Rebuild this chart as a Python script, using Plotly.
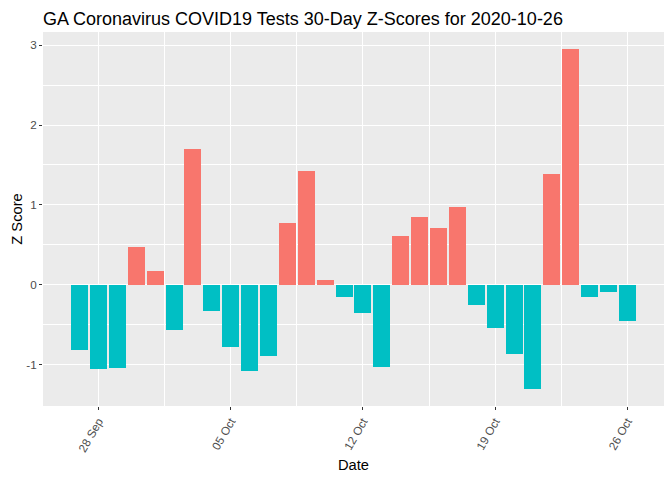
import plotly.graph_objects as go

dates = [
    "2020-09-27", "2020-09-28", "2020-09-29", "2020-09-30", "2020-10-01",
    "2020-10-02", "2020-10-03", "2020-10-04", "2020-10-05", "2020-10-06",
    "2020-10-07", "2020-10-08", "2020-10-09", "2020-10-10", "2020-10-11",
    "2020-10-12", "2020-10-13", "2020-10-14", "2020-10-15", "2020-10-16",
    "2020-10-17", "2020-10-18", "2020-10-19", "2020-10-20", "2020-10-21",
    "2020-10-22", "2020-10-23", "2020-10-24", "2020-10-25", "2020-10-26",
]
z_scores = [
    -0.82, -1.058, -1.046, 0.467, 0.167,
    -0.571, 1.696, -0.333, -0.783, -1.083,
    -0.896, 0.767, 1.429, 0.058, -0.154,
    -0.358, -1.033, 0.604, 0.854, 0.704,
    0.979, -0.258, -0.546, -0.867, -1.308,
    1.392, 2.954, -0.154, -0.096, -0.458,
]
tick_vals = ["2020-09-28", "2020-10-05", "2020-10-12", "2020-10-19", "2020-10-26"]
tick_text = ["28 Sep", "05 Oct", "12 Oct", "19 Oct", "26 Oct"]

POS = "#F8766D"
NEG = "#00BFC4"
colors = [POS if v > 0 else NEG for v in z_scores]
DAY_MS = 86400000

# the page body adds an 8px margin, so the figure is sized to fit the window
W, H = 664, 472

fig = go.Figure(
    go.Bar(
        x=dates,
        y=z_scores,
        marker=dict(color=colors, line=dict(width=0)),
        width=0.9 * DAY_MS,
        showlegend=False,
    )
)

fig.update_layout(
    width=W,
    height=H,
    margin=dict(l=35, r=8, t=24, b=74),
    paper_bgcolor="white",
    plot_bgcolor="#EBEBEB",
    font=dict(family="Liberation Sans, Arial, sans-serif", color="black"),
    title=dict(
        text="GA Coronavirus COVID19 Tests 30-Day Z-Scores for 2020-10-26",
        x=35 / W,
        xanchor="left",
        xref="container",
        y=1 - 4 / H,
        yref="container",
        yanchor="top",
        pad=dict(t=0, b=0, l=0, r=0),
        font=dict(size=18, color="black"),
    ),
    bargap=0,
)

fig.update_xaxes(
    type="date",
    automargin=False,
    range=["2020-09-25 01:26", "2020-10-27 22:34"],
    tickmode="array",
    tickvals=tick_vals,
    ticktext=tick_text,
    tickangle=-60,
    tickfont=dict(size=11.7, color="#4D4D4D"),
    ticks="outside",
    ticklen=3,
    tickcolor="#333333",
    showgrid=True,
    gridcolor="white",
    gridwidth=1.1,
    zeroline=False,
    showline=False,
    minor=dict(
        tickmode="array",
        tickvals=["2020-10-01 12:00", "2020-10-08 12:00", "2020-10-15 12:00", "2020-10-22 12:00"],
        showgrid=True,
        gridcolor="white",
        gridwidth=0.55,
        ticks="",
    ),
    title=dict(text="Date", font=dict(size=14.7, color="black"), standoff=6),
)

fig.update_yaxes(
    automargin=False,
    range=[-1.521, 3.167],
    tickmode="array",
    tickvals=[-1, 0, 1, 2, 3],
    ticktext=["-1", "0", "1", "2", "3"],
    tickfont=dict(size=11.7, color="#4D4D4D"),
    ticks="outside",
    ticklen=3,
    tickcolor="#333333",
    showgrid=True,
    gridcolor="white",
    gridwidth=1.1,
    zeroline=False,
    showline=False,
    minor=dict(
        tickmode="array",
        tickvals=[-0.5, 0.5, 1.5, 2.5],
        showgrid=True,
        gridcolor="white",
        gridwidth=0.55,
        ticks="",
    ),
    title=dict(text="Z Score", font=dict(size=14.7, color="black"), standoff=0),
)

fig.write_html("out.html")
